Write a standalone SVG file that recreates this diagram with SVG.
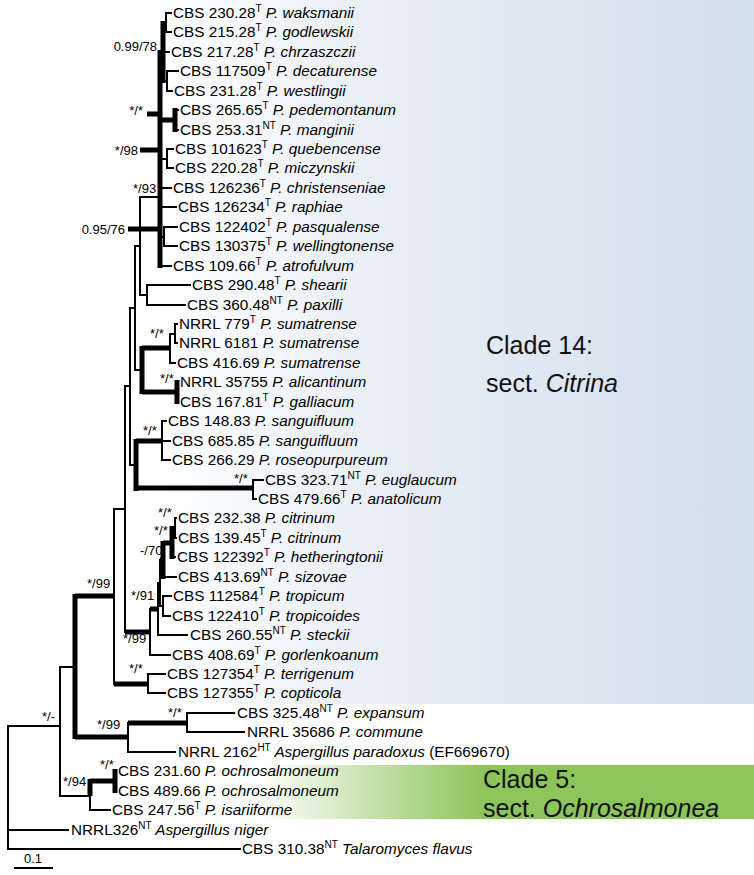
<svg xmlns="http://www.w3.org/2000/svg" width="754" height="875" viewBox="0 0 754 875">
<defs>
<linearGradient id="gBlue" x1="0" y1="0" x2="1" y2="0">
<stop offset="0" stop-color="#ffffff"/>
<stop offset="0.45" stop-color="#e5ecf5"/>
<stop offset="1" stop-color="#d2dfed"/>
</linearGradient>
<linearGradient id="gGreen" x1="0" y1="0" x2="1" y2="0">
<stop offset="0" stop-color="#ffffff"/>
<stop offset="0.45" stop-color="#8dc55a"/>
<stop offset="1" stop-color="#8dc55a"/>
</linearGradient>
<style>
.t{fill:none;stroke:#000;stroke-width:2;stroke-linecap:square}
.k{fill:none;stroke:#000;stroke-width:5;stroke-linecap:butt}
text{font-family:"Liberation Sans",Arial,sans-serif;fill:#000}
.lf{font-size:15.3px}
.i{font-style:italic}
.s{font-size:10px}
.sp{font-size:13px}
.cl{font-size:25px;fill:#111}
</style>
</defs>
<rect x="150" y="0" width="604" height="704" fill="url(#gBlue)"/>
<rect x="260" y="765" width="494" height="54" fill="url(#gGreen)"/>

<g id="connectors">
<path class="t" d="M171,13H166V32H171M163,23H166M163,52H169M178,71H167V91H172M163,81H167M160,52H163"/>
<path class="k" d="M163,21V83"/>
<path class="k" d="M147,114H162M160,120H175M175,108V132"/>
<path class="t" d="M175,110H178M175,130H178"/>
<path class="t" d="M173,149H167V168H173M160,159H167"/>
<path class="k" d="M140,150H162"/>
<path class="k" d="M160,50V268"/>
<path class="t" d="M160,188H171M160,207H176M177,227H164V246H177M160,237H164M160,266H171"/>
<path class="k" d="M128,229H160"/>
<path class="t" d="M140,197H160M140,197V295M140,295H147M190,285H147V305H185"/>
<path class="t" d="M135,246H140M135,246V370M135,370H142"/>
<path class="k" d="M142,346V394M142,348H170M142,392H177M177,380V404"/>
<path class="t" d="M170,334V363M170,334H175M177,324H175V343H177M170,363H175M177,382H178M177,402H178"/>
<path class="t" d="M130,308H135M130,308V465M130,465H136"/>
<path class="k" d="M136,439V491M136,441H162M136,488H253"/>
<path class="t" d="M162,421V460M162,421H166M162,441H170M162,460H170M253,480V499M253,480H263M253,499H256"/>
<path class="t" d="M125,386H130M125,386V632"/>
<path class="k" d="M125,632H150M150,609H158"/>
<path class="t" d="M150,609V655M150,655H170M158,583V635M158,635H187M158,583H160M160,560V606M160,606H163M171,596H163V616H170"/>
<path class="k" d="M160,560H163M163,541V579M163,543H172M172,526V559"/>
<path class="t" d="M163,577H176M172,557H175M172,528H175M175,518V538M175,518H176M175,538H176"/>
<path class="t" d="M114,509H125M114,509V684"/>
<path class="k" d="M114,684H148M75,596H114M75,594V739M75,737H128M128,723H187"/>
<path class="t" d="M148,674V693M148,674H165M148,693H165M128,723V752M128,752H175M187,713V732M187,713H234M187,732H244"/>
<path class="t" d="M60,667H75M60,667V796M60,796H90M90,781V810M90,810H110"/>
<path class="k" d="M90,779V796M90,781H115M115,769V793"/>
<path class="t" d="M115,771H116M115,791H116"/>
<path class="t" d="M8,726H60M8,726V849M8,830H68M8,849H240"/>
<path class="t" d="M15,868H52" stroke-linecap="butt"/>
</g>

<g id="support" class="sp">
<text class="sp" x="157" y="51" text-anchor="end">0.99/78</text>
<text class="sp" x="143" y="115" text-anchor="end">*/*</text>
<text class="sp" x="138" y="155" text-anchor="end">*/98</text>
<text class="sp" x="133" y="193">*/93</text>
<text class="sp" x="125" y="234" text-anchor="end">0.95/76</text>
<text class="sp" x="150" y="338">*/*</text>
<text class="sp" x="160" y="383">*/*</text>
<text class="sp" x="143" y="435">*/*</text>
<text class="sp" x="234" y="483">*/*</text>
<text class="sp" x="158" y="517">*/*</text>
<text class="sp" x="154" y="535">*/*</text>
<text class="sp" x="140" y="555">-/70</text>
<text class="sp" x="87" y="588">*/99</text>
<text class="sp" x="131" y="600">*/91</text>
<text class="sp" x="123" y="643">*/99</text>
<text class="sp" x="129" y="673">*/*</text>
<text class="sp" x="168" y="717">*/*</text>
<text class="sp" x="97" y="729">*/99</text>
<text class="sp" x="42" y="721">*/-</text>
<text class="sp" x="100" y="769">*/*</text>
<text class="sp" x="63" y="786">*/94</text>
<text class="sp" x="33" y="863" text-anchor="middle">0.1</text>
</g>

<g id="leaf-waksmanii"><text class="lf" x="173" y="18">CBS 230.28<tspan class="s" dy="-6">T</tspan><tspan class="i" dy="6"> P. waksmanii</tspan></text></g>
<g id="leaf-godlewskii"><text class="lf" x="173" y="37">CBS 215.28<tspan class="s" dy="-6">T</tspan><tspan class="i" dy="6"> P. godlewskii</tspan></text></g>
<g id="leaf-chrzaszczii"><text class="lf" x="171" y="57">CBS 217.28<tspan class="s" dy="-6">T</tspan><tspan class="i" dy="6"> P. chrzaszczii</tspan></text></g>
<g id="leaf-decaturense"><text class="lf" x="180" y="76">CBS 117509<tspan class="s" dy="-6">T</tspan><tspan class="i" dy="6"> P. decaturense</tspan></text></g>
<g id="leaf-westlingii"><text class="lf" x="174" y="96">CBS 231.28<tspan class="s" dy="-6">T</tspan><tspan class="i" dy="6"> P. westlingii</tspan></text></g>
<g id="leaf-pedemontanum"><text class="lf" x="180" y="115">CBS 265.65<tspan class="s" dy="-6">T</tspan><tspan class="i" dy="6"> P. pedemontanum</tspan></text></g>
<g id="leaf-manginii"><text class="lf" x="180" y="135">CBS 253.31<tspan class="s" dy="-6">NT</tspan><tspan class="i" dy="6"> P. manginii</tspan></text></g>
<g id="leaf-quebencense"><text class="lf" x="175" y="154">CBS 101623<tspan class="s" dy="-6">T</tspan><tspan class="i" dy="6"> P. quebencense</tspan></text></g>
<g id="leaf-miczynskii"><text class="lf" x="175" y="173">CBS 220.28<tspan class="s" dy="-6">T</tspan><tspan class="i" dy="6"> P. miczynskii</tspan></text></g>
<g id="leaf-christenseniae"><text class="lf" x="173" y="193">CBS 126236<tspan class="s" dy="-6">T</tspan><tspan class="i" dy="6"> P. christenseniae</tspan></text></g>
<g id="leaf-raphiae"><text class="lf" x="178" y="212">CBS 126234<tspan class="s" dy="-6">T</tspan><tspan class="i" dy="6"> P. raphiae</tspan></text></g>
<g id="leaf-pasqualense"><text class="lf" x="179" y="232">CBS 122402<tspan class="s" dy="-6">T</tspan><tspan class="i" dy="6"> P. pasqualense</tspan></text></g>
<g id="leaf-wellingtonense"><text class="lf" x="179" y="251">CBS 130375<tspan class="s" dy="-6">T</tspan><tspan class="i" dy="6"> P. wellingtonense</tspan></text></g>
<g id="leaf-atrofulvum"><text class="lf" x="173" y="271">CBS 109.66<tspan class="s" dy="-6">T</tspan><tspan class="i" dy="6"> P. atrofulvum</tspan></text></g>
<g id="leaf-shearii"><text class="lf" x="192" y="290">CBS 290.48<tspan class="s" dy="-6">T</tspan><tspan class="i" dy="6"> P. shearii</tspan></text></g>
<g id="leaf-paxilli"><text class="lf" x="187" y="310">CBS 360.48<tspan class="s" dy="-6">NT</tspan><tspan class="i" dy="6"> P. paxilli</tspan></text></g>
<g id="leaf-sumatrense-779"><text class="lf" x="179" y="329">NRRL 779<tspan class="s" dy="-6">T</tspan><tspan class="i" dy="6"> P. sumatrense</tspan></text></g>
<g id="leaf-sumatrense-6181"><text class="lf" x="179" y="348">NRRL 6181 <tspan class="i">P. sumatrense</tspan></text></g>
<g id="leaf-sumatrense-416"><text class="lf" x="177" y="368">CBS 416.69 <tspan class="i">P. sumatrense</tspan></text></g>
<g id="leaf-alicantinum"><text class="lf" x="180" y="387">NRRL 35755 <tspan class="i">P. alicantinum</tspan></text></g>
<g id="leaf-galliacum"><text class="lf" x="180" y="407">CBS 167.81<tspan class="s" dy="-6">T</tspan><tspan class="i" dy="6"> P. galliacum</tspan></text></g>
<g id="leaf-sanguifluum-148"><text class="lf" x="168" y="426">CBS 148.83 <tspan class="i">P. sanguifluum</tspan></text></g>
<g id="leaf-sanguifluum-685"><text class="lf" x="172" y="446">CBS 685.85 <tspan class="i">P. sanguifluum</tspan></text></g>
<g id="leaf-roseopurpureum"><text class="lf" x="172" y="465">CBS 266.29 <tspan class="i">P. roseopurpureum</tspan></text></g>
<g id="leaf-euglaucum"><text class="lf" x="265" y="485">CBS 323.71<tspan class="s" dy="-6">NT</tspan><tspan class="i" dy="6"> P. euglaucum</tspan></text></g>
<g id="leaf-anatolicum"><text class="lf" x="258" y="504">CBS 479.66<tspan class="s" dy="-6">T</tspan><tspan class="i" dy="6"> P. anatolicum</tspan></text></g>
<g id="leaf-citrinum-232"><text class="lf" x="178" y="523">CBS 232.38 <tspan class="i">P. citrinum</tspan></text></g>
<g id="leaf-citrinum-139"><text class="lf" x="178" y="543">CBS 139.45<tspan class="s" dy="-6">T</tspan><tspan class="i" dy="6"> P. citrinum</tspan></text></g>
<g id="leaf-hetheringtonii"><text class="lf" x="177" y="562">CBS 122392<tspan class="s" dy="-6">T</tspan><tspan class="i" dy="6"> P. hetheringtonii</tspan></text></g>
<g id="leaf-sizovae"><text class="lf" x="178" y="582">CBS 413.69<tspan class="s" dy="-6">NT</tspan><tspan class="i" dy="6"> P. sizovae</tspan></text></g>
<g id="leaf-tropicum"><text class="lf" x="173" y="601">CBS 112584<tspan class="s" dy="-6">T</tspan><tspan class="i" dy="6"> P. tropicum</tspan></text></g>
<g id="leaf-tropicoides"><text class="lf" x="172" y="621">CBS 122410<tspan class="s" dy="-6">T</tspan><tspan class="i" dy="6"> P. tropicoides</tspan></text></g>
<g id="leaf-steckii"><text class="lf" x="190" y="640">CBS 260.55<tspan class="s" dy="-6">NT</tspan><tspan class="i" dy="6"> P. steckii</tspan></text></g>
<g id="leaf-gorlenkoanum"><text class="lf" x="172" y="660">CBS 408.69<tspan class="s" dy="-6">T</tspan><tspan class="i" dy="6"> P. gorlenkoanum</tspan></text></g>
<g id="leaf-terrigenum"><text class="lf" x="167" y="679">CBS 127354<tspan class="s" dy="-6">T</tspan><tspan class="i" dy="6"> P. terrigenum</tspan></text></g>
<g id="leaf-copticola"><text class="lf" x="167" y="698">CBS 127355<tspan class="s" dy="-6">T</tspan><tspan class="i" dy="6"> P. copticola</tspan></text></g>
<g id="leaf-expansum"><text class="lf" x="237" y="718">CBS 325.48<tspan class="s" dy="-6">NT</tspan><tspan class="i" dy="6"> P. expansum</tspan></text></g>
<g id="leaf-commune"><text class="lf" x="247" y="737">NRRL 35686 <tspan class="i">P. commune</tspan></text></g>
<g id="leaf-paradoxus"><text class="lf" x="178" y="757">NRRL 2162<tspan class="s" dy="-6">HT</tspan><tspan class="i" dy="6"> Aspergillus paradoxus</tspan> (EF669670)</text></g>
<g id="leaf-ochrosalmoneum-231"><text class="lf" x="118" y="776">CBS 231.60 <tspan class="i">P. ochrosalmoneum</tspan></text></g>
<g id="leaf-ochrosalmoneum-489"><text class="lf" x="118" y="796">CBS 489.66 <tspan class="i">P. ochrosalmoneum</tspan></text></g>
<g id="leaf-isariiforme"><text class="lf" x="112" y="815">CBS 247.56<tspan class="s" dy="-6">T</tspan><tspan class="i" dy="6"> P. isariiforme</tspan></text></g>
<g id="leaf-niger"><text class="lf" x="71" y="835">NRRL326<tspan class="s" dy="-6">NT</tspan><tspan class="i" dy="6"> Aspergillus niger</tspan></text></g>
<g id="leaf-talaromyces"><text class="lf" x="242" y="854">CBS 310.38<tspan class="s" dy="-6">NT</tspan><tspan class="i" dy="6"> Talaromyces flavus</tspan></text></g>

<g id="clade14">
<text class="cl" x="486" y="354">Clade 14:</text>
<text class="cl" x="486" y="392">sect. <tspan class="i">Citrina</tspan></text>
</g>
<g id="clade5">
<text class="cl" x="483" y="788">Clade 5:</text>
<text class="cl" x="483" y="817">sect. <tspan class="i">Ochrosalmonea</tspan></text>
</g>
</svg>
